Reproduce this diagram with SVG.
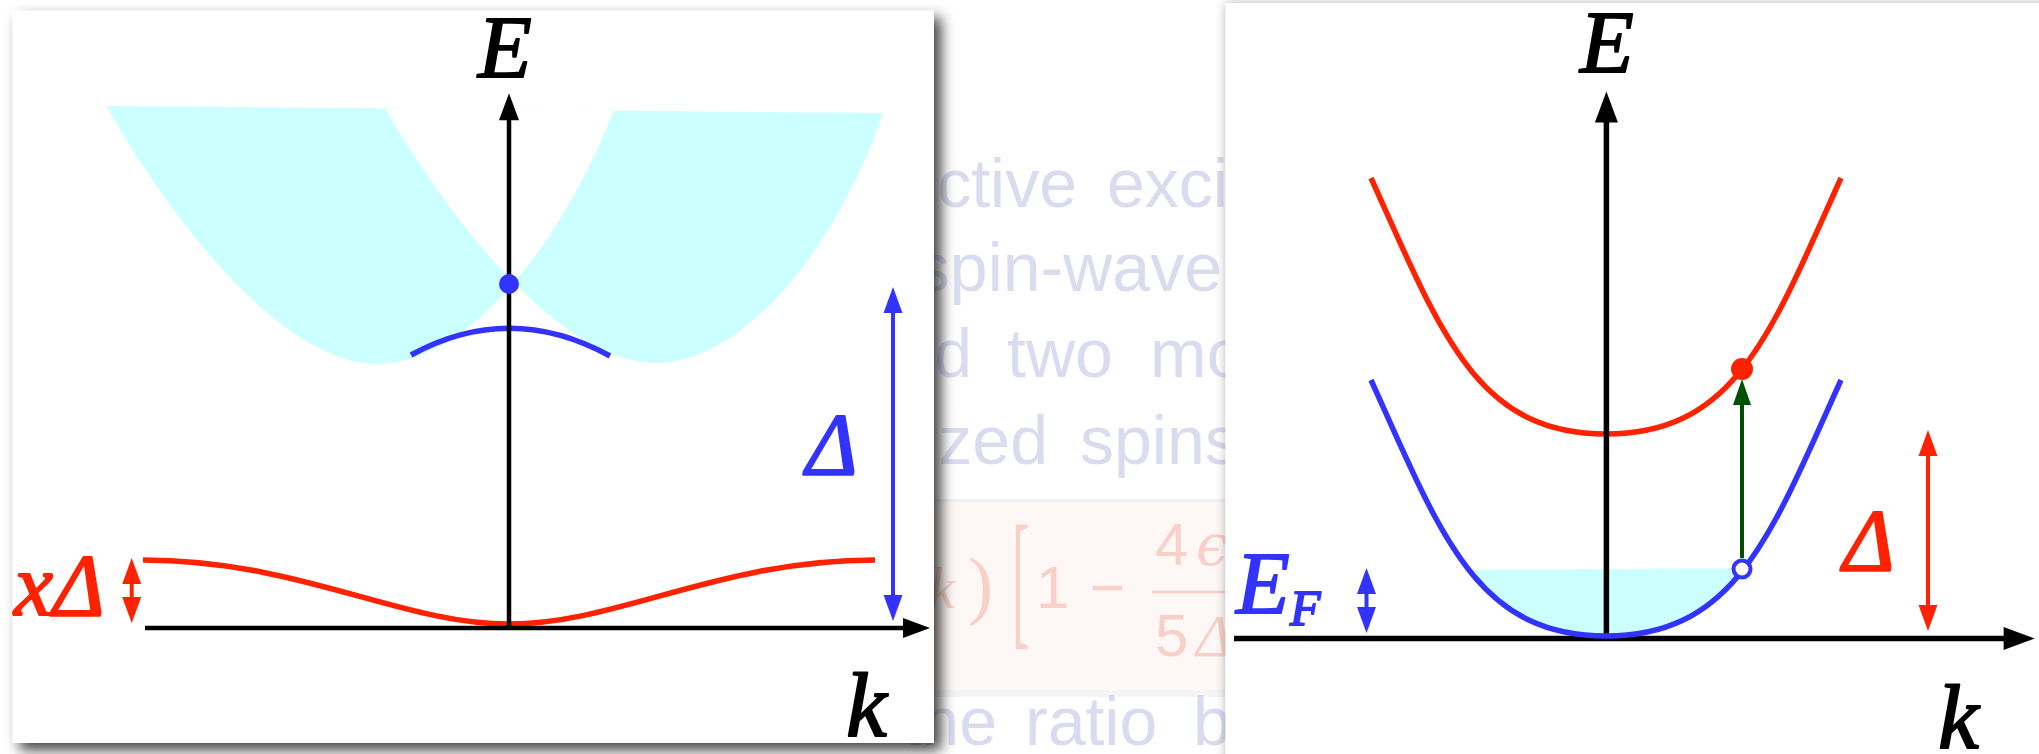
<svg xmlns="http://www.w3.org/2000/svg" width="2039" height="754" viewBox="0 0 2039 754">
<defs>
<style>
.faint{font-family:'Liberation Sans',Arial,sans-serif;font-size:68px;fill:#d9dcef}
.pk{font-family:'Liberation Sans',Arial,sans-serif;font-size:60px;fill:#f8d0c8}
.pks{font-family:'Liberation Serif','Times New Roman',serif;fill:#f8d0c8}
.lbl{font-family:'Liberation Serif','Times New Roman',serif;font-style:italic;stroke-width:1.8;stroke-linejoin:round}
.lk{fill:#000;stroke:#000}
.lb{fill:#3333ff;stroke:#3333ff}
.lr{fill:#ff2200;stroke:#ff2200}
.cyan{fill:#ccffff}
.axL{stroke:#000;stroke-width:4.5;fill:none}
.axR{stroke:#000;stroke-width:5.5;fill:none}
.red{stroke:#ff2200;stroke-width:5.5;fill:none}
.blue{stroke:#3333ff;stroke-width:5.5;fill:none}
.arB{stroke:#3333ff;stroke-width:4;fill:none}
.arR{stroke:#ff2200;stroke-width:4;fill:none}
.arG{stroke:#005000;stroke-width:4;fill:none}
</style>
<filter id="sh1" x="-5%" y="-5%" width="112%" height="112%">
<feDropShadow dx="7" dy="7" stdDeviation="7" flood-color="#000" flood-opacity="0.75"/>
</filter>
<filter id="sh2" x="-5%" y="-5%" width="112%" height="112%">
<feDropShadow dx="0" dy="0" stdDeviation="5" flood-color="#000" flood-opacity="0.3"/>
</filter>
<marker id="mK" markerUnits="userSpaceOnUse" markerWidth="40" markerHeight="40" refX="13" refY="0" orient="auto-start-reverse" overflow="visible">
<path d="M0,-10 L27,0 L0,10 Z" fill="#000"/>
</marker>
<marker id="mK2" markerUnits="userSpaceOnUse" markerWidth="40" markerHeight="40" refX="15" refY="0" orient="auto-start-reverse" overflow="visible">
<path d="M0,-11.5 L31,0 L0,11.5 Z" fill="#000"/>
</marker>
<marker id="mB" markerUnits="userSpaceOnUse" markerWidth="40" markerHeight="40" refX="12" refY="0" orient="auto-start-reverse" overflow="visible">
<path d="M0,-9.5 L26,0 L0,9.5 Z" fill="#3333ff"/>
</marker>
<marker id="mR" markerUnits="userSpaceOnUse" markerWidth="40" markerHeight="40" refX="12" refY="0" orient="auto-start-reverse" overflow="visible">
<path d="M0,-9.5 L26,0 L0,9.5 Z" fill="#ff2200"/>
</marker>
<marker id="mG" markerUnits="userSpaceOnUse" markerWidth="40" markerHeight="40" refX="12" refY="0" orient="auto-start-reverse" overflow="visible">
<path d="M0,-9 L26,0 L0,9 Z" fill="#005000"/>
</marker>
<clipPath id="fermiClip">
<path d="M1371,380 C1441,535 1476,636 1606,636 C1736,636 1771,535 1841,380 Z"/>
</clipPath>
</defs>

<rect x="0" y="0" width="2039" height="754" fill="#ffffff"/>

<g id="slide-background">
<rect x="930" y="500" width="300" height="190" fill="#fdf7f6"/>
<rect x="930" y="499" width="300" height="3" fill="#f1f1f1"/>
<rect x="930" y="690" width="300" height="7" fill="#f4f4f4"/>
<text class="faint" x="1077" y="207" text-anchor="end">ctive</text>
<text class="faint" x="1107" y="207">exci</text>
<text class="faint" x="1222" y="291" text-anchor="end">spin-wave</text>
<text class="faint" x="972" y="377" text-anchor="end">d</text>
<text class="faint" x="1007" y="377">two</text>
<text class="faint" x="1150" y="377">mo</text>
<text class="faint" x="1048" y="464" text-anchor="end">ized</text>
<text class="faint" x="1080" y="464">spins</text>
<text class="faint" x="997" y="745" text-anchor="end">the</text>
<text class="faint" x="1025" y="745">ratio</text>
<text class="faint" x="1193" y="745">b</text>
<text class="pks" x="955" y="608" style="font-size:60px;font-style:italic" text-anchor="end">k</text>
<text class="pks" x="968" y="610" style="font-size:76px">)</text>
<text class="pks" style="font-size:150px" transform="translate(1012,629) scale(0.35,1)">[</text>
<text class="pk" x="1036" y="608">1</text>
<text class="pk" x="1090" y="608">−</text>
<text class="pk" x="1155" y="565">4</text>
<text x="1196" y="565" font-family="'DejaVu Serif',serif" font-style="italic" font-size="58" fill="#f8d0c8">ϵ</text>
<line x1="1152" y1="592" x2="1240" y2="592" stroke="#f8d0c8" stroke-width="2.5"/>
<text class="pk" x="1155" y="656">5</text>
<text class="pks" x="1196" y="656" style="font-size:60px;font-style:italic">Δ</text>
</g>

<g id="left-panel">
<rect x="12.7" y="10.6" width="921.3" height="732.4" fill="#ffffff" filter="url(#sh1)"/>
<g id="continuum">
<path class="cyan" fill-rule="evenodd" d="M106,106 C183,239 288,364 378,364 C458,364 553,264 614,110.6 Z M385,108.5 C461,238 566,363 656,363 C736,363 831,263 883,113 Z"/>
</g>
<g id="red-band-left">
<path class="red" d="M143,560 C300,560 400,624 509,624 C618,624 718,560 875,560"/>
</g>
<g id="blue-arc">
<path class="blue" stroke-width="5" d="M411,355 Q510,301 610,356"/>
</g>
<g id="axes-left">
<line class="axL" x1="509" y1="628" x2="509" y2="107.3" marker-end="url(#mK)"/>
<line class="axL" x1="145" y1="628" x2="916" y2="628" marker-end="url(#mK)"/>
</g>
<g id="blue-dot">
<circle cx="509" cy="284" r="10" fill="#3333ff"/>
</g>
<g id="connectors-left">
<line class="arB" x1="893" y1="301" x2="893" y2="607" marker-start="url(#mB)" marker-end="url(#mB)"/>
<line class="arR" x1="131.7" y1="572" x2="131.7" y2="609" marker-start="url(#mR)" marker-end="url(#mR)"/>
</g>
<g id="labels-left">
<text class="lbl lk" x="478" y="77" style="font-size:88px">E</text>
<text class="lbl lk" x="846" y="736" style="font-size:92px">k</text>
<text class="lbl lb" x="806" y="474" style="font-size:88px">Δ</text>
<text class="lbl lr" x="14" y="615" style="font-size:88px">xΔ</text>
</g>
</g>

<g id="right-panel">
<rect x="1225.5" y="3.3" width="830" height="770" fill="#ffffff" filter="url(#sh2)"/>
<g id="fermi-sea">
<polygon class="cyan" clip-path="url(#fermiClip)" points="1360,570.5 1850,567.5 1850,650 1360,650"/>
</g>
<g id="red-band-right">
<path class="red" d="M1371,178 C1441,333 1476,434 1606,434 C1736,434 1771,333 1841,178"/>
</g>
<g id="axes-right">
<line class="axR" x1="1606.4" y1="638.5" x2="1606.4" y2="107.4" marker-end="url(#mK2)"/>
<line class="axR" x1="1234" y1="638.5" x2="2018.6" y2="638.5" marker-end="url(#mK2)"/>
</g>
<g id="blue-band-right">
<path class="blue" d="M1371,380 C1441,535 1476,636 1606,636 C1736,636 1771,535 1841,380"/>
</g>
<g id="connectors-right">
<line class="arG" x1="1742" y1="558" x2="1742" y2="393" marker-end="url(#mG)"/>
<line class="arR" x1="1928" y1="444" x2="1928" y2="617" marker-start="url(#mR)" marker-end="url(#mR)"/>
<line class="arB" x1="1366.5" y1="582" x2="1366.5" y2="619" marker-start="url(#mB)" marker-end="url(#mB)"/>
</g>
<g id="electron">
<circle cx="1742" cy="369" r="11" fill="#ff2200"/>
</g>
<g id="hole">
<circle cx="1742" cy="569" r="8.5" fill="#ffffff" stroke="#3333ff" stroke-width="4"/>
</g>
<g id="labels-right">
<text class="lbl lk" x="1580" y="72" style="font-size:88px">E</text>
<text class="lbl lk" x="1938" y="748" style="font-size:92px">k</text>
<text class="lbl lr" x="1843" y="570" style="font-size:88px">Δ</text>
<text class="lbl lb" x="1236" y="613" style="font-size:88px">E</text>
<text class="lbl lb" x="1290" y="625" style="font-size:50px">F</text>
</g>
</g>
</svg>
